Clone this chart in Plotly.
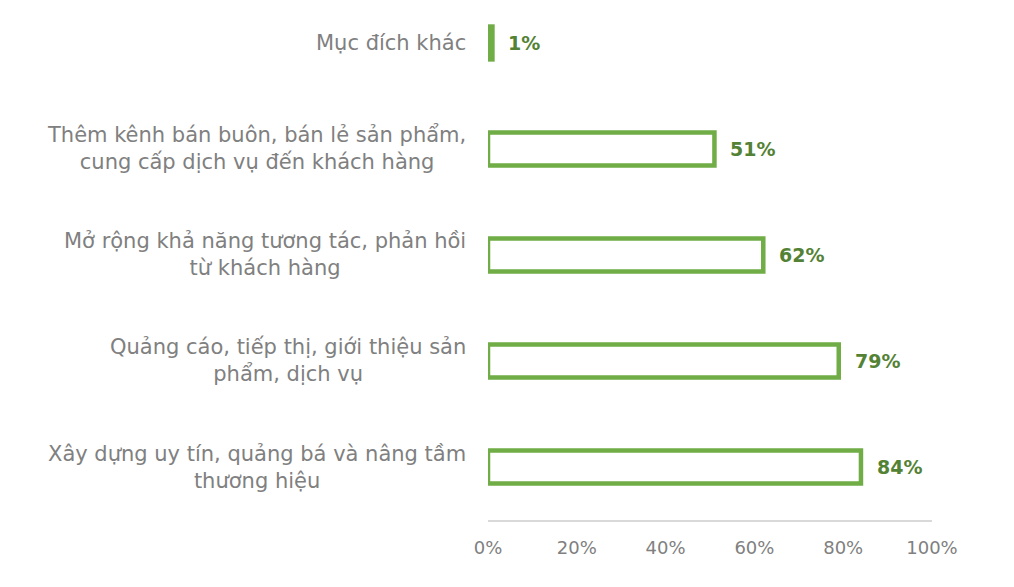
import plotly.graph_objects as go

categories = [
    "Xây dựng uy tín, quảng bá và nâng tầm<br>thương hiệu",
    "Quảng cáo, tiếp thị, giới thiệu sản<br>phẩm, dịch vụ",
    "Mở rộng khả năng tương tác, phản hồi<br>từ khách hàng",
    "Thêm kênh bán buôn, bán lẻ sản phẩm,<br>cung cấp dịch vụ đến khách hàng",
    "Mục đích khác",
]
values = [0.84, 0.79, 0.62, 0.51, 0.01]
labels = ["84%", "79%", "62%", "51%", "1%"]
tick_vals = [0, 0.2, 0.4, 0.6, 0.8, 1.0]
tick_text = ["0%", "20%", "40%", "60%", "80%", "100%"]

FONT = "DejaVu Sans"
GREEN = "#70AD47"
DARK_GREEN = "#548235"
GRAY = "#808080"

fill = [GREEN if v < 0.02 else "white" for v in values]

fig = go.Figure(go.Bar(
    y=categories,
    x=values,
    orientation="h",
    width=0.31,
    marker=dict(color=fill, line=dict(color=GREEN, width=4.5)),
    hoverinfo="skip",
))

for cat, v, lab in zip(categories, values, labels):
    # value label
    fig.add_annotation(
        x=v, y=cat, text=lab, showarrow=False,
        xanchor="left", yanchor="middle", xshift=14,
        font=dict(family=FONT, size=19, color=DARK_GREEN, weight="bold"),
    )
    # category label (centered multi-line, right-anchored)
    fig.add_annotation(
        xref="paper", x=0, y=cat, text=cat, showarrow=False,
        xanchor="right", yanchor="middle", xshift=-20, align="center",
        font=dict(family=FONT, size=21, color=GRAY),
    )

fig.update_layout(
    width=998, height=571,
    margin=dict(l=480, r=74, t=0, b=59),
    paper_bgcolor="white", plot_bgcolor="white",
    showlegend=False,
    font=dict(family=FONT),
    xaxis=dict(
        range=[0, 1.0], tickvals=tick_vals, ticktext=tick_text,
        showgrid=False, zeroline=False,
        showline=True, linecolor="#d9d9d9", linewidth=2,
        tickfont=dict(family=FONT, size=18, color=GRAY),
        ticks="", ticklabelstandoff=10,
    ),
    yaxis=dict(
        range=[-0.5, 4.33], showgrid=False, zeroline=False, showline=False,
        showticklabels=False, ticks="",
    ),
)

fig.write_html("out.html")
